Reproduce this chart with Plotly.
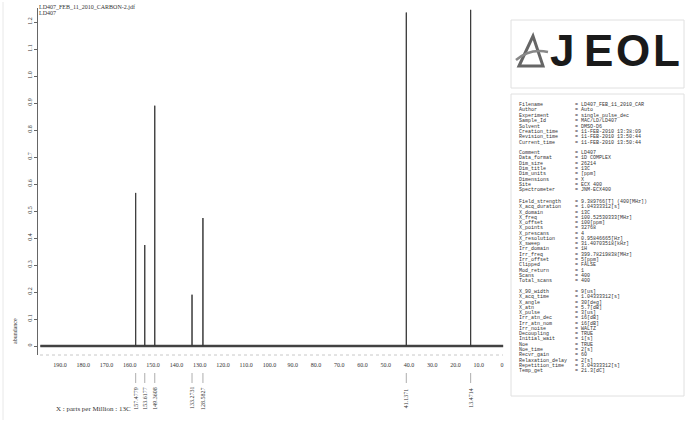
import plotly.graph_objects as go

# ---------------- data ----------------
peak_ppm = [157.5, 153.6, 149.3, 133.2731, 128.5827, 41.1371, 13.4714]
peak_height = [0.567, 0.374, 0.89, 0.19, 0.474, 1.235, 1.245]
peak_labels = ["157.4779", "153.6177", "149.3608", "133.2731", "128.5827", "41.1371", "13.4714"]
baseline_start = 198.5
baseline_end = -0.5

x_tick_vals = [190, 180, 170, 160, 150, 140, 130, 120, 110, 100, 90, 80, 70, 60, 50, 40, 30, 20, 10, 0]
x_tick_text = ["190.0", "180.0", "170.0", "160.0", "150.0", "140.0", "130.0", "120.0", "110.0",
               "100.0", "90.0", "80.0", "70.0", "60.0", "50.0", "40.0", "30.0", "20.0", "10.0", "0"]
y_tick_vals = [0, 0.1, 0.2, 0.3, 0.4, 0.5, 0.6, 0.7, 0.8, 0.9, 1.0, 1.1, 1.2]
y_tick_text = ["0", "0.1", "0.2", "0.3", "0.4", "0.5", "0.6", "0.7", "0.8", "0.9", "1.0", "1.1", "1.2"]

params_block1 = [
    ("Filename", "LD407_FEB_11_2010_CAR"),
    ("Author", "Auto"),
    ("Experiment", "single_pulse_dec"),
    ("Sample_Id", "MAC/LD/LD407"),
    ("Solvent", "DMSO-D6"),
    ("Creation_time", "11-FEB-2010 13:38:09"),
    ("Revision_time", "11-FEB-2010 13:50:44"),
    ("Current_time", "11-FEB-2010 13:50:44"),
]
params_block2 = [
    ("Comment", "LD407"),
    ("Data_format", "1D COMPLEX"),
    ("Dim_size", "26214"),
    ("Dim_title", "13C"),
    ("Dim_units", "[ppm]"),
    ("Dimensions", "X"),
    ("Site", "ECX 400"),
    ("Spectrometer", "JNM-ECX400"),
]
params_block3 = [
    ("Field_strength", "9.389766[T] (400[MHz])"),
    ("X_acq_duration", "1.04333312[s]"),
    ("X_domain", "13C"),
    ("X_freq", "100.52530333[MHz]"),
    ("X_offset", "100[ppm]"),
    ("X_points", "32768"),
    ("X_prescans", "4"),
    ("X_resolution", "0.95846665[Hz]"),
    ("X_sweep", "31.40703518[kHz]"),
    ("Irr_domain", "1H"),
    ("Irr_freq", "399.78219838[MHz]"),
    ("Irr_offset", "5[ppm]"),
    ("Clipped", "FALSE"),
    ("Mod_return", "1"),
    ("Scans", "400"),
    ("Total_scans", "400"),
]
params_block4 = [
    ("X_90_width", "9[us]"),
    ("X_acq_time", "1.04333312[s]"),
    ("X_angle", "30[deg]"),
    ("X_atn", "5.7[dB]"),
    ("X_pulse", "3[us]"),
    ("Irr_atn_dec", "16[dB]"),
    ("Irr_atn_nom", "16[dB]"),
    ("Irr_noise", "WALTZ"),
    ("Decoupling", "TRUE"),
    ("Initial_wait", "1[s]"),
    ("Noe", "TRUE"),
    ("Noe_time", "2[s]"),
    ("Recvr_gain", "60"),
    ("Relaxation_delay", "2[s]"),
    ("Repetition_time", "3.04333312[s]"),
    ("Temp_get", "21.3[dC]"),
]
logo_letters = ["J", "E", "O", "L"]

# ---------------- geometry helpers (layout only) ----------------
W, H = 686, 426
L, R, T, B = 38, 505, 8, 355


def px(x):
    return (x - L) / (R - L)


def py(y):
    return (B - y) / (B - T)


SERIF = "Liberation Serif, Times New Roman, serif"
MONO = "Liberation Mono, DejaVu Sans Mono, monospace"

# ---------------- spectrum built from the peak list ----------------
order = sorted(range(len(peak_ppm)), key=lambda i: -peak_ppm[i])
sx, sy = [baseline_start], [0]
for i in order:
    sx += [peak_ppm[i], peak_ppm[i], peak_ppm[i]]
    sy += [0, peak_height[i], 0]
sx.append(baseline_end)
sy.append(0)

fig = go.Figure()
fig.add_trace(go.Scatter(x=[baseline_start, baseline_end], y=[0, 0], mode="lines",
                         line=dict(color="#4a4a4a", width=2.4), hoverinfo="skip"))
fig.add_trace(go.Scatter(x=sx, y=sy, mode="lines",
                         line=dict(color="#3a3a3a", width=1), hoverinfo="skip"))

annotations = []
shapes = []


def note(x, y, text, size, family=SERIF, xanchor="left", xref="paper", angle=0, color="#333"):
    annotations.append(dict(x=x, y=y, xref=xref, yref="paper", text=text, showarrow=False,
                            xanchor=xanchor, yanchor="middle", textangle=angle, borderpad=0,
                            font=dict(family=family, size=size, color=color)))


# peak labels + leader lines
for p, lab in zip(peak_ppm, peak_labels):
    note(p, py(398), lab, 6, xanchor="center", xref="x", angle=-90)
    shapes.append(dict(type="line", xref="x", yref="paper", x0=p, x1=p, y0=py(373), y1=py(383),
                       line=dict(color="#999", width=0.8)))

# dotted axis line under spectrum
shapes.append(dict(type="line", xref="paper", yref="paper", x0=px(40), x1=px(503), y0=py(355), y1=py(355),
                   line=dict(color="#c8c8c8", width=1, dash="dot")))

# title texts
note(px(38), py(7), "LD407_FEB_11_2010_CARBON-2.jdf", 6)
note(px(38), py(13), "LD407", 6)
# y axis title
note(px(15), py(331), "abundance", 6, xanchor="center", angle=-90)
# x axis title
note(px(55), py(409), "X : parts per Million : 13C", 7)

# JEOL logo (letters spread out to mimic the extended logotype)
for letter, cx in zip(logo_letters, [562, 598, 633, 666]):
    note(px(cx), py(51), "<b>" + letter + "</b>", 44, family="Liberation Sans, Arial, sans-serif",
         xanchor="center", color="#1a1a1a")
shapes.append(dict(type="path", xref="paper", yref="paper",
                   path=f"M {px(519)} {py(66)} L {px(533)} {py(36)} L {px(543)} {py(66)} Z",
                   line=dict(color="#666", width=3), fillcolor="rgba(0,0,0,0)"))
shapes.append(dict(type="path", xref="paper", yref="paper",
                   path=f"M {px(516)} {py(60)} Q {px(530)} {py(48)} {px(548)} {py(52)}",
                   line=dict(color="#888", width=2.5)))

# panel frames
shapes.append(dict(type="rect", xref="paper", yref="paper", x0=px(511), x1=px(684), y0=py(20), y1=py(88),
                   line=dict(color="#e0e0e0", width=1)))
shapes.append(dict(type="rect", xref="paper", yref="paper", x0=px(511), x1=px(684), y0=py(94), y1=py(396),
                   line=dict(color="#e0e0e0", width=1)))
shapes.append(dict(type="line", xref="paper", yref="paper", x0=px(3), x1=px(3), y0=py(2), y1=py(420),
                   line=dict(color="#e8e8e8", width=1)))


# parameter table
def add_block(block, y0, dy):
    for k, (key, val) in enumerate(block):
        note(px(518), py(y0 + k * dy), key, 5, family=MONO)
        note(px(574), py(y0 + k * dy), "= " + val, 5, family=MONO)


add_block(params_block1, 105, 5.4)
add_block(params_block2, 153, 5.3)
add_block(params_block3, 202, 5.27)
add_block(params_block4, 292, 5.27)

y_low = -(B - 346) / 270.0
y_high = (346 - T) / 270.0

fig.update_layout(
    width=W, height=H,
    margin=dict(l=L, r=W - R, t=T, b=H - B, pad=0, autoexpand=False),
    paper_bgcolor="white", plot_bgcolor="white",
    showlegend=False,
    annotations=annotations,
    shapes=shapes,
    xaxis=dict(range=[199.5, -1.3], tickvals=x_tick_vals, ticktext=x_tick_text, automargin=False,
               showgrid=False, zeroline=False, showline=False,
               ticks="outside", ticklen=4, tickcolor="rgba(0,0,0,0)",
               tickfont=dict(family=SERIF, size=6, color="#333")),
    yaxis=dict(range=[y_low, y_high], tickvals=y_tick_vals, ticktext=y_tick_text, automargin=False,
               showgrid=False, zeroline=False, showline=True, linecolor="#666", linewidth=1,
               ticks="outside", ticklen=3, tickcolor="#666", tickangle=-90,
               tickfont=dict(family=SERIF, size=6, color="#333")),
)

fig.write_html("out.html", config={"displayModeBar": False},
               post_script="document.body.style.margin='0';document.body.style.overflow='hidden';")
